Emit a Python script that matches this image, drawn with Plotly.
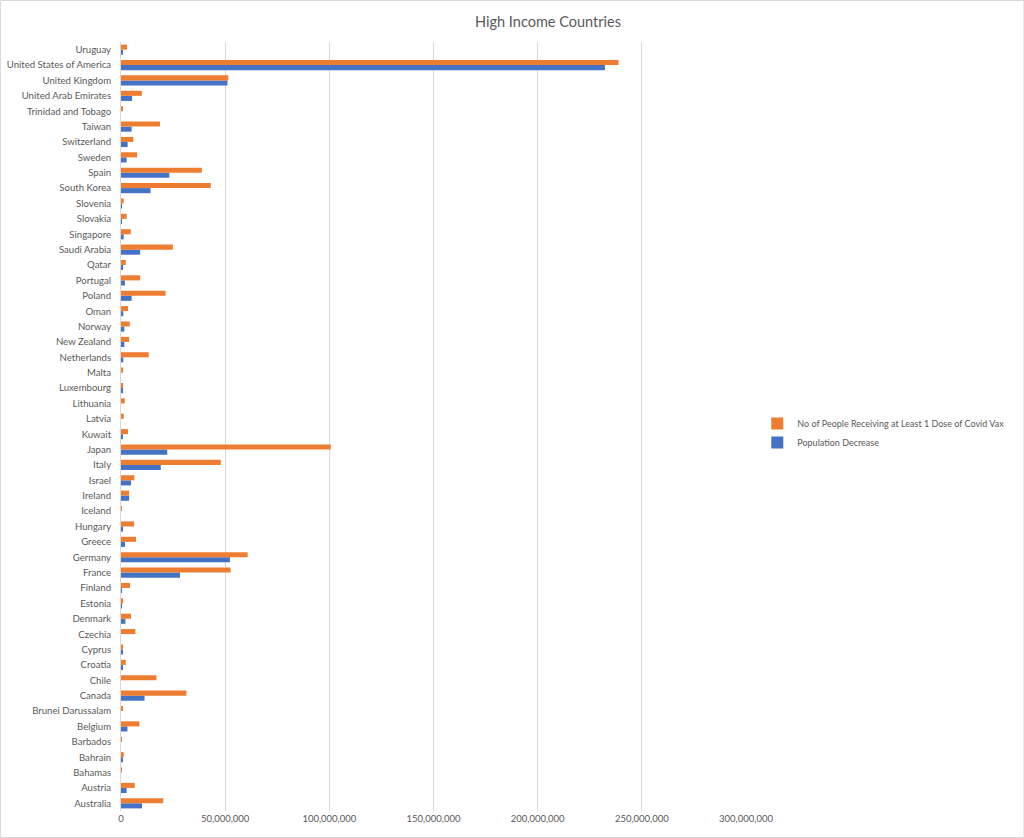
import plotly.graph_objects as go

countries = ["Australia", "Austria", "Bahamas", "Bahrain", "Barbados", "Belgium",
             "Brunei Darussalam", "Canada", "Chile", "Croatia", "Cyprus", "Czechia",
             "Denmark", "Estonia", "Finland", "France", "Germany", "Greece", "Hungary",
             "Iceland", "Ireland", "Israel", "Italy", "Japan", "Kuwait", "Latvia",
             "Lithuania", "Luxembourg", "Malta", "Netherlands", "New Zealand", "Norway",
             "Oman", "Poland", "Portugal", "Qatar", "Saudi Arabia", "Singapore",
             "Slovakia", "Slovenia", "South Korea", "Spain", "Sweden", "Switzerland",
             "Taiwan", "Trinidad and Tobago", "United Arab Emirates", "United Kingdom",
             "United States of America", "Uruguay"]

# millions
vax_m = [20.3, 6.6, 0.15, 1.3, 0.1, 8.8,
         0.5, 31.4, 17.0, 2.3, 0.6, 6.9,
         4.8, 1.0, 4.3, 52.6, 60.8, 7.2, 6.3,
         0.3, 3.9, 6.4, 47.9, 100.7, 3.4, 1.3,
         1.8, 0.5, 0.5, 13.3, 3.9, 4.2,
         3.4, 21.4, 9.2, 2.3, 24.9, 4.7,
         2.7, 1.3, 43.1, 38.8, 7.7, 5.9,
         18.7, 0.6, 10.0, 51.5,
         238.8, 2.9]

pop_dec_m = [10.1, 2.7, 0.0, 0.6, 0.0, 3.1,
             0.0, 11.3, 0.0, 0.5, 0.6, 0.0,
             2.1, 0.3, 0.3, 28.3, 52.3, 1.9, 0.5,
             0.0, 3.9, 4.8, 19.1, 22.2, 0.6, 0.0,
             0.0, 0.5, 0.0, 1.1, 1.6, 1.6,
             1.1, 5.1, 1.9, 0.6, 9.2, 1.3,
             0.3, 0.3, 14.2, 23.2, 2.7, 3.2,
             5.1, 0.0, 5.3, 51.1,
             232.3, 0.5]

vax = [v * 1e6 for v in vax_m]
pop_dec = [v * 1e6 for v in pop_dec_m]

series_names = ["No of People Receiving at Least 1 Dose of Covid Vax", "Population Decrease"]
tick_vals = [0, 50e6, 100e6, 150e6, 200e6, 250e6, 300e6]

ORANGE = "#ED7D31"
BLUE = "#4472C4"
GRAY_TXT = "#595959"
GRID = "#D9D9D9"
FONT = "Lato, Open Sans, sans-serif"

fig = go.Figure()
fig.add_trace(go.Bar(y=countries, x=pop_dec, name=series_names[1], orientation="h",
                     marker=dict(color=BLUE, line=dict(width=0))))
fig.add_trace(go.Bar(y=countries, x=vax, name=series_names[0], orientation="h",
                     marker=dict(color=ORANGE, line=dict(width=0))))

W, H = 1024, 838
L, R, T, B = 121, 745.7, 42, 811

fig.update_layout(
    width=W, height=H,
    barmode="group", bargap=0.34, bargroupgap=0,
    paper_bgcolor="white", plot_bgcolor="white",
    margin=dict(l=L, r=W - R, t=T, b=H - B, autoexpand=False),
    font=dict(family=FONT, color=GRAY_TXT, size=9),
    title=dict(text="High Income Countries", x=548 / W, xref="container", xanchor="center",
               y=1 - 22 / H, yref="container", yanchor="middle",
               font=dict(size=14.5, color=GRAY_TXT, family=FONT)),
    legend=dict(x=(757 - L) / (R - L), xanchor="left", y=(B - 433) / (B - T), yanchor="middle",
                traceorder="reversed", font=dict(size=9, color=GRAY_TXT, family=FONT),
                itemwidth=30, tracegroupgap=4, bgcolor="rgba(0,0,0,0)"),
    showlegend=True,
    shapes=[dict(type="rect", xref="paper", yref="paper",
                 x0=-(L - 0.5) / (R - L), x1=1 + (W - R - 0.5) / (R - L),
                 y0=-(H - B - 0.5) / (B - T), y1=1 + (T - 0.5) / (B - T),
                 line=dict(color=GRID, width=1), fillcolor="rgba(0,0,0,0)", layer="below")],
)

fig.update_xaxes(range=[0, 300e6], tickvals=tick_vals, tickformat=",", showgrid=True,
                 gridcolor=GRID, gridwidth=1, zeroline=False, showline=False,
                 ticks="", tickfont=dict(size=9.5, color=GRAY_TXT, family=FONT), fixedrange=True)
fig.update_yaxes(type="category", categoryorder="array", categoryarray=countries,
                 showgrid=False, zeroline=False, showline=True, linecolor=GRID, linewidth=1,
                 ticks="", ticklabelstandoff=7, tickfont=dict(size=9.6, color=GRAY_TXT, family=FONT),
                 automargin=False, fixedrange=True)

fig.write_html("out.html", config={"displayModeBar": False},
               post_script="document.body.style.margin='0px';document.body.style.overflow='hidden';")
